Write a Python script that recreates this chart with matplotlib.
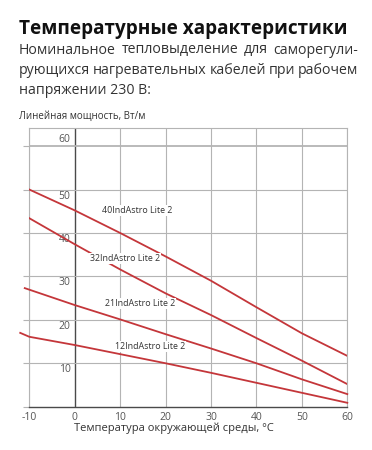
import matplotlib
matplotlib.use('Agg')
import matplotlib.pyplot as plt

# chart data
temps = [-10, 0, 10, 20, 30, 40, 50, 60]
temps_21 = [-11, 0, 10, 20, 30, 40, 50, 60]
temps_12 = [-12, -10, 0, 10, 20, 30, 40, 50, 60]
p40 = [50.0, 45.2, 40.0, 34.6, 29.0, 22.9, 16.9, 11.7]
p32 = [43.4, 37.4, 31.6, 26.1, 21.1, 15.8, 10.6, 5.2]
p21 = [27.3, 23.4, 20.1, 16.7, 13.4, 10.0, 6.3, 2.9]
p12 = [17.0, 16.1, 14.2, 12.1, 10.0, 7.8, 5.5, 3.2, 0.9]
series_names = ['40IndAstro Lite 2', '32IndAstro Lite 2',
                '21IndAstro Lite 2', '12IndAstro Lite 2']
label_pos = [(13.7, 45.2), (11.1, 34.1), (14.4, 23.8), (16.6, 13.8)]
yticks = [10, 20, 30, 40, 50, 60]
xticks = [-10, 0, 10, 20, 30, 40, 50, 60]

title = 'Температурные характеристики'
subtitle = ['Номинальное тепловыделение для саморегули-',
            'рующихся нагревательных кабелей при рабочем',
            'напряжении 230 В:']
ylabel = 'Линейная мощность, Вт/м'
xlabel = 'Температура окружающей среды, °С'

plt.rcParams['font.family'] = ['Open Sans', 'DejaVu Sans']

W, H = 372, 450
fig = plt.figure(figsize=(W / 100, H / 100), dpi=100)
fig.patch.set_facecolor('white')
renderer = fig.canvas.get_renderer()


def fx(x):
    return x / W


def fy(y):
    return 1 - y / H


def fit_size(txt, width, **kw):
    # font size that makes txt about `width` pixels wide
    t = fig.text(0, 0, txt, fontsize=10, **kw)
    w = t.get_window_extent(renderer).width
    t.remove()
    return 10 * width / w


red = '#c4363a'
grid_c = '#b4b4b4'
dark = '#4a4a4a'

ax = fig.add_axes([fx(29.3), fy(406.7), fx(347.3) - fx(29.3), fy(128.3) - fy(406.7)])
ax.set_xlim(-10, 60)
ax.set_ylim(0, 64.1)

for v in xticks:
    ax.axvline(v, color=dark if v == 0 else grid_c, lw=1.0 if v == 0 else 0.8, zorder=1)
for v in yticks:
    ax.axhline(v, color=grid_c, lw=1.3 if v == 60 else 0.8, zorder=1)

for s in ['top', 'right', 'left']:
    ax.spines[s].set_color(grid_c)
    ax.spines[s].set_linewidth(0.8)
ax.spines['bottom'].set_color(dark)
ax.spines['bottom'].set_linewidth(1.0)

ax.set_xticks(xticks)
ax.set_xticklabels([str(v) for v in xticks])
ax.set_yticks([0] + yticks)
ax.set_yticklabels([])
ax.tick_params(axis='y', length=4, color=grid_c, width=0.8)
ax.tick_params(axis='x', length=0, pad=4, labelsize=7.5, labelcolor='#555555')

ax.plot(temps, p40, color=red, lw=1.3, zorder=3)
ax.plot(temps, p32, color=red, lw=1.3, zorder=3)
ax.plot(temps_21, p21, color=red, lw=1.3, zorder=3, clip_on=False)
ax.plot(temps_12, p12, color=red, lw=1.3, zorder=3, clip_on=False)

for name, (lx, ly) in zip(series_names, label_pos):
    ax.text(lx, ly, name, fontsize=6.4, color='#333333', ha='center', va='center',
            zorder=4, bbox=dict(boxstyle='square,pad=0.1', fc='white', ec='none'))

for v in yticks:
    ax.text(-0.9, v + 1.6 if v == 60 else v - 1.5, str(v), fontsize=7.5, color='#555555',
            ha='right', va='center', zorder=2)

ts = fit_size(title, 331, fontweight='bold')
fig.text(fx(19), fy(29), title, fontsize=ts, fontweight='bold', color='#111111',
         ha='left', va='center')

ss = fit_size(subtitle[-1], 131)
x0, x1 = 19, 358
for i, line in enumerate(subtitle):
    yline = 50 + i * 20.5
    words = line.split(' ')
    if i == len(subtitle) - 1:
        fig.text(fx(x0), fy(yline), line, fontsize=ss, color='#333333', ha='left', va='center')
        continue
    arts = [fig.text(0, fy(yline), w, fontsize=ss, color='#333333', ha='left', va='center')
            for w in words]
    widths = [a.get_window_extent(renderer).width for a in arts]
    gap = (x1 - x0 - sum(widths)) / (len(words) - 1)
    x = x0
    for a, w in zip(arts, widths):
        a.set_x(fx(x))
        x += w + gap

fig.text(fx(19), fy(116), ylabel, fontsize=7, color='#333333', ha='left', va='center')
fig.text(fx(174), fy(428.5), xlabel, fontsize=8, color='#333333', ha='center', va='center')

fig.savefig('out.png', dpi=100)
